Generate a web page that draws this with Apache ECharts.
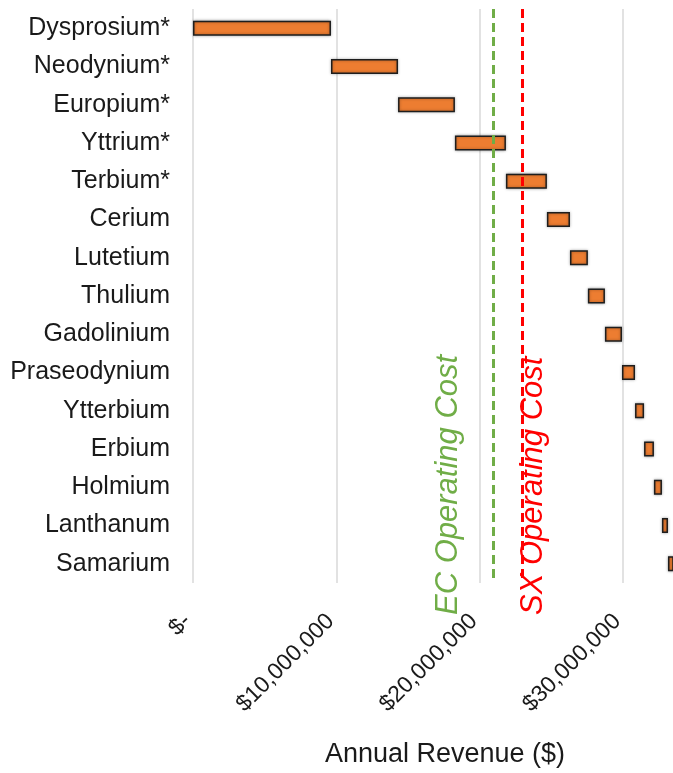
<!DOCTYPE html>
<html>
<head>
<meta charset="utf-8">
<script src="https://cdn.jsdelivr.net/npm/echarts@6/dist/echarts.min.js"></script>
<style>
html,body{margin:0;padding:0;background:#fff;}
#chart{width:673px;height:773px;}
</style>
</head>
<body>
<div id="chart"></div>
<script>
// Elements ordered top to bottom
const elements = ['Dysprosium*','Neodynium*','Europium*','Yttrium*','Terbium*','Cerium','Lutetium','Thulium','Gadolinium','Praseodynium','Ytterbium','Erbium','Holmium','Lanthanum','Samarium'];
// Annual revenue contributed by each element ($)
const revenue = [9630000, 4680000, 3970000, 3560000, 2860000, 1610000, 1250000, 1190000, 1190000, 910000, 630000, 690000, 560000, 420000, 500000];
// Operating costs ($)
const ecOperatingCost = 20930000;
const sxOperatingCost = 22960000;
const xTicks = [0, 10000000, 20000000, 30000000];
const xMax = 33500000;

// cumulative base for waterfall
const base = [];
let acc = 0;
for (let i = 0; i < revenue.length; i++) { base.push(acc); acc += revenue[i]; }

const chart = echarts.init(document.getElementById('chart'), null, {renderer: 'canvas'});
const FONT = '"Liberation Sans", Arial, sans-serif';

function fmt(v) {
  if (v === 0) return '$-';
  if (xTicks.indexOf(v) < 0) return '';
  return '$' + v.toLocaleString('en-US');
}

chart.setOption({
  animation: false,
  backgroundColor: '#fff',
  grid: {left: 193, right: 0, top: 9, bottom: 186, containLabel: false},
  xAxis: {
    type: 'value', min: 0, max: xMax, interval: 10000000,
    axisLine: {show: false}, axisTick: {show: false},
    splitLine: {show: true, showMaxLine: false, lineStyle: {color: '#d9d9d9', width: 1.5}},
    axisLabel: {rotate: 45, margin: 29, padding: [0, 8, 0, 0], fontSize: 23, color: '#1a1a1a', fontFamily: FONT, formatter: fmt, showMaxLabel: false},
    name: 'Annual Revenue ($)', nameLocation: 'middle', nameGap: 158,
    nameTextStyle: {fontSize: 27, color: '#1a1a1a', fontFamily: FONT, padding: [0, 0, 0, 24]}
  },
  yAxis: {
    type: 'category', data: elements, inverse: true,
    axisLine: {show: false}, axisTick: {show: false},
    axisLabel: {fontSize: 25, color: '#1a1a1a', fontFamily: FONT, margin: 23}
  },
  series: [
    {type: 'bar', stack: 'w', data: base, itemStyle: {color: 'transparent'}, barWidth: 15, silent: true},
    {type: 'bar', stack: 'w', data: revenue, barWidth: 15,
     itemStyle: {color: '#ED7D31', borderColor: '#1e1e1e', borderWidth: 1.5, shadowBlur: 3, shadowColor: 'rgba(0,0,0,0.35)'},
     markLine: {
       symbol: 'none', silent: true, label: {show: false},
       data: [
         {xAxis: ecOperatingCost, lineStyle: {color: '#70AD47', type: [9, 5], width: 3}},
         {xAxis: sxOperatingCost, lineStyle: {color: '#FF0000', type: [9, 5], width: 3}}
       ]
     }}
  ]
});

const yBottom = 615;
const ecX = chart.convertToPixel({xAxisIndex: 0}, ecOperatingCost);
const sxX = chart.convertToPixel({xAxisIndex: 0}, sxOperatingCost);
chart.setOption({
  graphic: [
    {type: 'text', x: ecX - 45, y: yBottom, rotation: Math.PI / 2,
     style: {text: 'EC Operating Cost', fill: '#70AD47', font: 'italic 31px ' + FONT, align: 'left', verticalAlign: 'middle'}},
    {type: 'text', x: sxX + 11, y: yBottom, rotation: Math.PI / 2,
     style: {text: 'SX Operating Cost', fill: '#FF0000', font: 'italic 31px ' + FONT, align: 'left', verticalAlign: 'middle'}}
  ]
});
</script>
</body>
</html>
